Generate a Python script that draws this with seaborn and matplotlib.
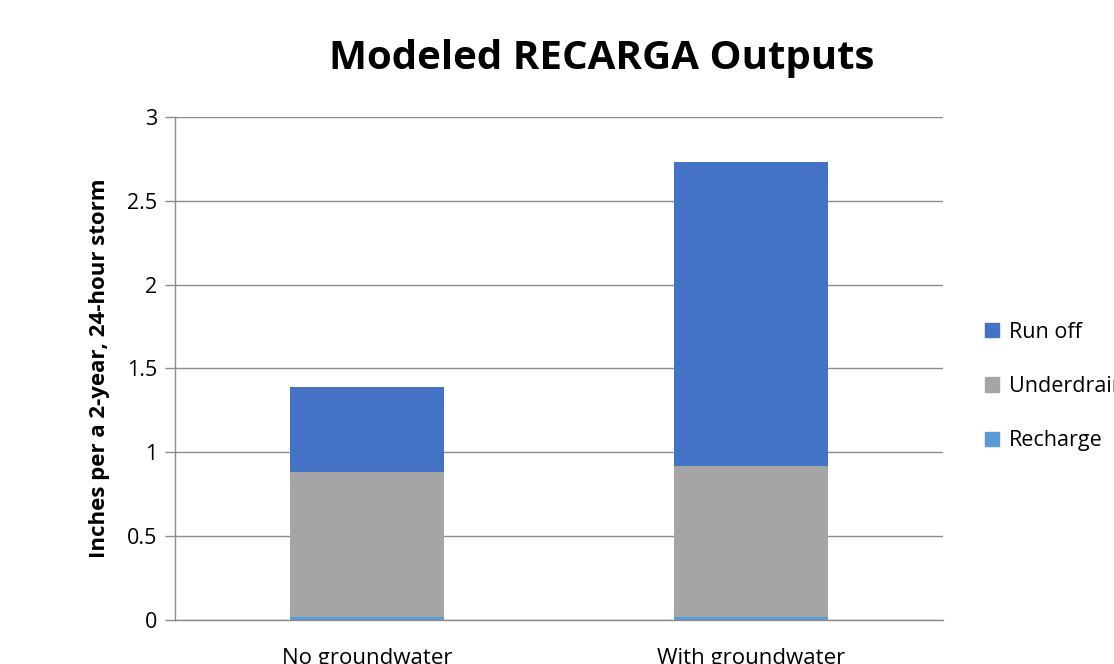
import matplotlib
matplotlib.use('Agg')
import matplotlib.pyplot as plt
import seaborn as sns
import pandas as pd
import numpy as np
from matplotlib.patches import Patch

scenarios = ['No groundwater', 'With groundwater']
recharge = [0.02, 0.02]
underdrain = [0.86, 0.90]
runoff = [0.51, 1.81]

colors = {'Run off': '#4472C4', 'Underdrain': '#A5A5A5', 'Recharge': '#5B9BD5'}

sns.set_style('white')
plt.rcParams['font.family'] = ['Open Sans', 'DejaVu Sans']
plt.rcParams['text.color'] = 'black'
plt.rcParams['xtick.color'] = 'black'
plt.rcParams['ytick.color'] = 'black'
plt.rcParams['axes.labelcolor'] = 'black'

df = pd.DataFrame({'scenario': scenarios, 'Recharge': recharge,
                   'Underdrain': underdrain, 'Run off': runoff})
# cumulative tops so the stacks can be drawn back to front
df['top_recharge'] = df['Recharge']
df['top_underdrain'] = df['top_recharge'] + df['Underdrain']
df['top_runoff'] = df['top_underdrain'] + df['Run off']

fig = plt.figure(figsize=(11.14, 6.64), dpi=100)
ax = fig.add_axes([0.157, 0.0663, 0.6895, 0.7575])

for col, name in [('top_runoff', 'Run off'), ('top_underdrain', 'Underdrain'),
                  ('top_recharge', 'Recharge')]:
    sns.barplot(data=df, x='scenario', y=col, color=colors[name], width=0.4,
                saturation=1, linewidth=0, ax=ax, zorder=3)

ax.set_ylim(0, 3)
ax.set_xlim(-0.5, 1.5)
ax.set_yticks([0, 0.5, 1, 1.5, 2, 2.5, 3])
ax.set_yticklabels(['0', '0.5', '1', '1.5', '2', '2.5', '3'])
ax.yaxis.grid(True, color='#8c8c8c', linewidth=1)
ax.set_axisbelow(True)

ax.set_xticks([0, 1])
ax.set_xticklabels(scenarios)
ax.set_xticks([-0.5, 0.5, 1.5], minor=True)
ax.tick_params(axis='x', which='major', length=0, pad=20, labelsize=16)
ax.tick_params(axis='x', which='minor', length=7, color='#8c8c8c', width=1)
ax.tick_params(axis='y', length=7, color='#8c8c8c', width=1, labelsize=15.5, pad=6, left=True)

for s in ['top', 'right']:
    ax.spines[s].set_visible(False)
for s in ['left', 'bottom']:
    ax.spines[s].set_color('#8c8c8c')
    ax.spines[s].set_linewidth(1)

ax.set_xlabel('')
ax.set_ylabel('Inches per a 2-year, 24-hour storm', fontsize=16, fontweight='bold', labelpad=12)
fig.text(0.54, 0.912, 'Modeled RECARGA Outputs', ha='center', va='center',
         fontsize=29, fontweight='bold')

handles = [Patch(color=colors[n]) for n in ['Run off', 'Underdrain', 'Recharge']]
fig.legend(handles, ['Run off', 'Underdrain', 'Recharge'], loc='center left',
           bbox_to_anchor=(0.867, 0.418), frameon=False, fontsize=15.5,
           handlelength=0.65, handleheight=0.65, handletextpad=0.45, labelspacing=1.55)

fig.savefig('out.png', dpi=100)
